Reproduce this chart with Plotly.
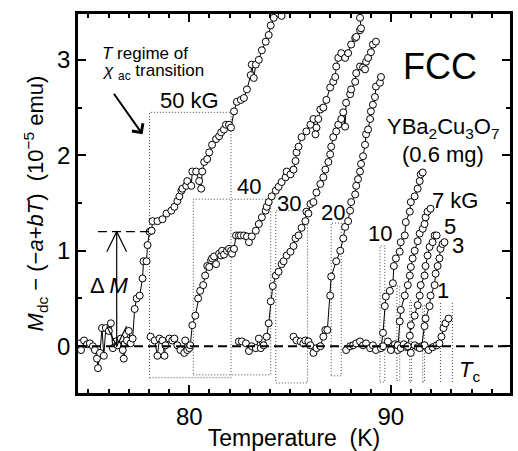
import plotly.graph_objects as go

FONT = "Liberation Sans, Arial, Helvetica, sans-serif"

# ---------------- data: temperature (K) and M (1e-5 emu) ----------------
t50 = [74.58,74.63,74.78,74.93,75.07,75.22,75.32,75.42,75.47,75.57,75.67,75.76,75.86,76.01,76.11,76.21,76.35,76.45,76.60,76.70,76.75,76.90,77.00,77.09,77.19,77.29,77.39,77.54,77.68,77.73,77.88,77.93,78.03,78.13,78.18,78.42,78.67,78.87,79.11,79.26,79.41,79.51,79.61,79.66,79.85,79.90,80.10,80.15,80.34,80.49,80.59,80.64,80.74,80.89,80.99,81.13,81.33,81.48,81.58,81.72,81.82,81.97,82.07,82.22,82.36,82.56,82.71,82.86,83.05,83.10,83.20,83.30,83.45,83.60,83.79,83.94,84.04,84.19,84.58]
m50 = [0.03,-0.04,0.06,0.02,0.03,0.00,-0.04,-0.13,-0.23,-0.07,0.19,-0.10,0.19,0.16,0.24,-0.02,0.05,0.01,0.08,-0.04,-0.13,0.06,0.16,0.03,0.08,0.39,0.50,0.53,0.71,0.89,0.89,1.06,1.20,1.21,1.31,1.31,1.33,1.39,1.42,1.46,1.52,1.57,1.63,1.65,1.68,1.73,1.68,1.83,1.83,1.73,1.65,1.83,1.93,1.96,2.03,2.11,2.17,2.20,2.24,2.27,2.32,2.32,2.29,2.46,2.56,2.58,2.60,2.69,2.84,2.95,2.81,2.95,3.00,3.10,3.19,3.26,3.36,3.44,3.46]

t40 = [78.08,78.28,78.42,78.52,78.67,78.77,78.82,79.01,79.16,79.26,79.41,79.56,79.75,79.80,79.90,80.00,80.05,80.15,80.30,80.44,80.54,80.69,80.79,80.89,80.99,81.08,81.13,81.23,81.33,81.48,81.58,81.63,81.72,81.87,81.97,82.07,82.12,82.22,82.32,82.46,82.56,82.71,82.86,82.96,83.10,83.30,83.45,83.60,83.79,83.84,83.94,84.09,84.29,84.43,84.58,84.78,84.83,85.02,85.17,85.27,85.32,85.42,85.57,85.81,86.01,86.16,86.26,86.31,86.40,86.50,86.65,86.80,86.99,87.14,87.24,87.29,87.39,87.54,87.73,87.88,88.03,88.23,88.28,88.47,88.52,88.47]
m40 = [0.10,0.06,-0.10,0.08,0.06,-0.10,0.01,0.08,0.06,0.08,0.01,-0.04,-0.07,0.06,-0.04,-0.02,0.01,0.22,0.32,0.50,0.58,0.64,0.74,0.84,0.83,0.90,0.92,0.94,0.86,0.97,0.95,1.00,0.96,1.00,1.02,1.00,0.97,1.02,1.16,1.16,1.16,1.16,1.15,1.09,1.15,1.21,1.28,1.35,1.42,1.46,1.51,1.57,1.63,1.67,1.72,1.77,1.83,1.80,1.85,1.94,2.03,2.09,2.19,2.25,2.32,2.38,2.22,2.29,2.38,2.48,2.50,2.58,2.71,2.77,2.82,2.93,3.02,3.07,3.02,3.07,3.16,3.23,3.24,3.31,3.33,3.44]

t30 = [82.46,82.61,82.81,82.96,83.10,83.30,83.45,83.55,83.69,83.84,83.94,84.04,84.14,84.29,84.43,84.58,84.68,84.83,85.02,85.17,85.27,85.42,85.57,85.76,85.81,85.91,86.01,86.16,86.31,86.50,86.65,86.75,86.90,86.99,87.04,87.14,87.29,87.39,87.54,87.64,87.73,87.78,87.98,88.03,88.23,88.28,88.47,88.62,88.72,88.77,88.87,89.01,89.11,89.26]
m30 = [0.05,0.05,0.03,-0.05,0.00,-0.02,0.08,-0.02,0.01,0.10,0.24,0.47,0.63,0.74,0.78,0.86,0.89,0.95,0.99,1.05,1.13,1.16,1.24,1.31,1.41,1.39,1.49,1.51,1.61,1.70,1.77,1.85,1.93,2.01,2.09,2.19,2.25,2.32,2.38,2.45,2.30,2.55,2.64,2.69,2.77,2.86,2.93,2.92,2.90,2.98,3.02,3.08,3.16,3.19]

t20 = [85.17,85.32,85.52,85.66,85.76,85.91,86.01,86.16,86.31,86.50,86.65,86.75,86.85,86.99,87.04,87.29,87.49,87.64,87.73,87.88,87.98,88.03,88.23,88.28,88.37,88.47,88.52,88.62,88.72,88.77,88.87,88.97,89.01,89.11,89.21,89.26,89.46,89.51]
m20 = [0.10,0.06,0.05,0.03,0.06,0.05,0.01,-0.07,-0.02,0.00,0.10,0.17,0.17,0.53,0.73,0.89,1.00,1.13,1.25,1.31,1.42,1.51,1.59,1.68,1.75,1.83,1.91,1.99,2.11,2.22,2.27,2.38,2.46,2.53,2.61,2.72,2.76,2.82]

t10 = [87.78,87.98,88.13,88.28,88.47,88.62,88.77,88.97,89.11,89.26,89.51,89.61,89.70,89.75,89.95,90.10,90.15,90.25,90.44,90.49,90.69,90.74,90.94,90.99,91.18,91.33,91.43,91.48,91.58]
m10 = [-0.04,0.00,0.01,0.03,0.05,0.01,0.03,-0.02,0.01,-0.04,-0.02,0.14,0.42,0.52,0.58,0.66,0.84,0.92,0.99,1.09,1.16,1.30,1.41,1.51,1.57,1.65,1.73,1.80,1.82]

t7 = [89.61,89.85,90.00,90.20,90.34,90.44,90.49,90.69,90.84,90.94,90.99,91.08,91.18,91.33,91.43,91.58,91.67,91.72,91.82,91.97]
m7 = [0.00,0.05,-0.04,0.02,-0.04,0.26,0.38,0.53,0.64,0.74,0.83,0.92,1.00,1.10,1.18,1.23,1.28,1.35,1.41,1.44]

t5 = [90.34,90.49,90.64,90.79,90.94,90.99,91.18,91.33,91.43,91.48,91.67,91.72,91.82,91.92,92.07,92.17,92.27]
m5 = [0.01,-0.02,0.02,-0.01,0.11,0.22,0.32,0.43,0.53,0.64,0.74,0.84,0.95,1.04,1.09,1.16,1.16]

t3 = [90.84,90.99,91.18,91.33,91.53,91.67,91.72,91.92,91.97,92.17,92.22,92.32,92.41,92.46,92.56,92.66]
m3 = [0.00,-0.07,0.01,-0.01,0.00,0.21,0.29,0.42,0.53,0.64,0.76,0.84,0.92,1.02,1.07,1.09]

t1 = [91.43,91.67,91.87,92.07,92.27,92.41,92.51,92.61,92.71,92.86]
m1 = [-0.02,0.01,-0.04,-0.01,0.01,0.03,0.10,0.19,0.24,0.29]

# chi_ac transition windows (K) and box heights (1e-5 emu)
box_left   = [78.03, 80.20, 84.29, 87.04, 89.46, 90.30, 90.94, 91.58]
box_right  = [82.07, 84.04, 85.86, 87.54, 89.70, 90.44, 91.03, 91.67]
box_top    = [2.45, 1.54, 1.42, 1.29, 1.05, 0.63, 0.48, 0.43]
box_bottom = [-0.33, -0.30, -0.385, -0.31, -0.375, -0.36, -0.375, -0.375]
win1_T = [92.46, 93.05]
win1_top = 0.47
win1_bottom = -0.375

field_labels = ["50 kG", "40", "30", "20", "10", "7 kG", "5", "3", "1"]
label_T = [80.0, 82.96, 84.93, 87.14, 89.46, 93.20, 92.91, 93.35, 92.61]
label_M = [2.57, 1.67, 1.50, 1.40, 1.18, 1.53, 1.25, 1.06, 0.58]

x_ticks = [80, 90]
y_ticks = [0, 1, 2, 3]
x_range = [74.48, 95.91]
y_range = [-0.49, 3.48]

dM_T = 76.40
dM_value = 1.20
dM_line_T = [75.47, 78.03]
dM_head_halfwidth = 0.49
dM_head_height = 0.21

series = [(t50, m50), (t40, m40), (t30, m30), (t20, m20), (t10, m10),
          (t7, m7), (t5, m5), (t3, m3), (t1, m1)]

fig = go.Figure()

DOT = dict(color="#444", width=1, dash="1px,2px")
shapes = []
for l, r, t, b in zip(box_left, box_right, box_top, box_bottom):
    shapes.append(dict(type="rect", xref="x", yref="y", x0=l, x1=r, y0=b, y1=t,
                       line=DOT, layer="below"))
for xv in win1_T:
    shapes.append(dict(type="line", xref="x", yref="y", x0=xv, x1=xv,
                       y0=win1_bottom, y1=win1_top, line=DOT, layer="below"))
# zero line
shapes.append(dict(type="line", xref="paper", yref="y", x0=0, x1=1, y0=0, y1=0,
                   line=dict(color="black", width=2, dash="9px,5px"), layer="above"))
# Delta M reference line
shapes.append(dict(type="line", xref="x", yref="y", x0=dM_line_T[0], x1=dM_line_T[1],
                   y0=dM_value, y1=dM_value,
                   line=dict(color="black", width=1.2, dash="9px,5px")))
# Delta M vertical double arrow
shapes.append(dict(type="line", xref="x", yref="y", x0=dM_T, x1=dM_T, y0=0, y1=dM_value,
                   line=dict(color="black", width=1.2)))
hw, hh = dM_head_halfwidth, dM_head_height
shapes.append(dict(type="path", xref="x", yref="y",
                   path=f"M {dM_T-hw},{dM_value-hh} L {dM_T},{dM_value} L {dM_T+hw},{dM_value-hh}",
                   line=dict(color="black", width=1.2)))
shapes.append(dict(type="path", xref="x", yref="y",
                   path=f"M {dM_T-hw},{hh} L {dM_T},0 L {dM_T+hw},{hh}",
                   line=dict(color="black", width=1.2)))

for t, m in series:
    fig.add_trace(go.Scatter(
        x=t, y=m, mode="lines+markers",
        line=dict(color="black", width=1),
        marker=dict(symbol="circle", size=7, color="white",
                    line=dict(color="black", width=1)),
        showlegend=False, hoverinfo="skip"))

ann = []
for txt, tx, my in zip(field_labels, label_T, label_M):
    ann.append(dict(x=tx, y=my, xref="x", yref="y", text=txt, showarrow=False,
                    font=dict(size=22, color="black", family=FONT)))

ann += [
    dict(x=75.57, y=3.07, xref="x", yref="y", xanchor="left",
         text="<i>T</i> regime of", showarrow=False,
         font=dict(size=17, color="black", family=FONT)),
    dict(x=75.57, y=2.875, xref="x", yref="y", xanchor="left",
         text="<i>χ</i> <sub>ac</sub> transition", showarrow=False,
         font=dict(size=17, color="black", family=FONT)),
    dict(x=77.68, y=2.22, ax=76.21, ay=2.66, xref="x", yref="y", axref="x", ayref="y",
         text="", showarrow=True, arrowhead=4, arrowsize=1.3, arrowwidth=2,
         arrowcolor="black"),
    dict(x=76.06, y=0.64, xref="x", yref="y", text="Δ <i>M</i>", showarrow=False,
         font=dict(size=22, color="black", family=FONT)),
    dict(x=92.46, y=2.93, xref="x", yref="y", text="FCC", showarrow=False,
         font=dict(size=36, color="black", family=FONT)),
    dict(x=92.61, y=2.29, xref="x", yref="y", text="YBa<sub>2</sub>Cu<sub>3</sub>O<sub>7</sub>",
         showarrow=False, font=dict(size=22, color="black", family=FONT)),
    dict(x=92.61, y=2.01, xref="x", yref="y", text="(0.6 mg)", showarrow=False,
         font=dict(size=22, color="black", family=FONT)),
    dict(x=93.89, y=-0.26, xref="x", yref="y", text="<i>T</i><sub>c</sub>", showarrow=False,
         font=dict(size=22, color="black", family=FONT)),
]

axis_common = dict(showline=True, linecolor="black", linewidth=2.5, mirror="allticks",
                   ticks="inside", ticklen=8, tickwidth=1.5, tickcolor="black",
                   showgrid=False, zeroline=False,
                   tickfont=dict(size=24, color="black", family=FONT))

fig.update_layout(
    width=518, height=451,
    margin=dict(l=78, r=5, t=14, b=56),
    paper_bgcolor="white", plot_bgcolor="white",
    font=dict(family=FONT, color="black"),
    shapes=shapes, annotations=ann,
    xaxis=dict(range=x_range, tickvals=x_ticks,
               minor=dict(dtick=1, ticks="inside", ticklen=4, tickwidth=1.5, tickcolor="black"),
               title=dict(text="Temperature\u00a0\u00a0(K)", font=dict(size=23, family=FONT),
                          standoff=0),
               **axis_common),
    yaxis=dict(range=y_range, tickvals=y_ticks,
               minor=dict(dtick=0.5, ticks="inside", ticklen=4, tickwidth=1.5, tickcolor="black"),
               title=dict(text="<i>M</i><sub>dc</sub> − (−<i>a</i>+<i>bT</i>)\u00a0\u00a0(10<sup>−5</sup> emu)",
                          font=dict(size=22, family=FONT), standoff=8),
               **axis_common),
)

fig.write_html("out.html")
